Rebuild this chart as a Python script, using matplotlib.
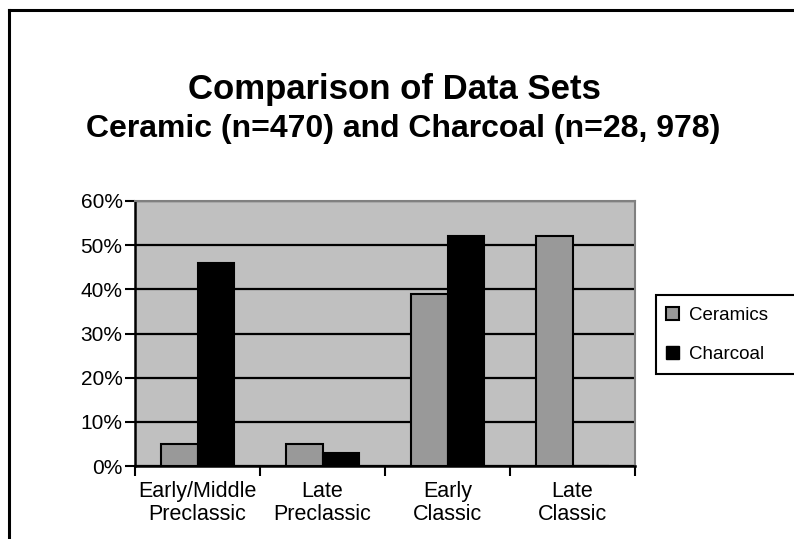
import matplotlib
matplotlib.use("Agg")
import matplotlib.pyplot as plt
import numpy as np
from matplotlib.lines import Line2D
from matplotlib.patches import Rectangle, Patch

plt.rcParams['font.family'] = ['Liberation Sans', 'DejaVu Sans']

# Share of each data set per period (%)
periods = ["Early/Middle\nPreclassic", "Late\nPreclassic", "Early\nClassic", "Late\nClassic"]
ceramics = [5, 5, 39, 52]
charcoal = [46, 3, 52, 0]
yticks = [0, 10, 20, 30, 40, 50, 60]

fig = plt.figure(figsize=(7.94, 5.39), dpi=100)
ax = fig.add_axes([135 / 794, 73 / 539, 500 / 794, 265 / 539])

x = np.arange(len(periods))
w = 0.29
ax.set_facecolor('#c0c0c0')
ax.set_axisbelow(True)
ax.yaxis.grid(True, color='black', linewidth=1.6)
ax.bar(x - w / 2, ceramics, w, color='#999999', edgecolor='black', linewidth=1.5, label='Ceramics')
ax.bar(x + w / 2, charcoal, w, color='black', edgecolor='black', linewidth=1.5, label='Charcoal')

ax.set_ylim(0, 60)
ax.set_yticks(yticks)
ax.set_yticklabels([f"{v}%" for v in yticks], fontsize=15)
ax.set_xlim(-0.5, len(periods) - 0.5)
ax.set_xticks(np.arange(len(periods) + 1) - 0.5)
ax.set_xticklabels([])
ax.set_xticks(x, minor=True)
ax.set_xticklabels(periods, minor=True, fontsize=15.5, linespacing=1.12)
ax.tick_params(axis='x', which='minor', length=0, pad=11)
ax.tick_params(axis='both', which='major', length=7, width=1.5, direction='out')
ax.tick_params(axis='y', pad=2)

for side in ('left', 'bottom'):
    ax.spines[side].set_linewidth(1.8)
    ax.spines[side].set_color('black')
for side in ('top', 'right'):
    ax.spines[side].set_linewidth(1.5)
    ax.spines[side].set_color('#808080')

# two-line title
fig.text(0.497, 1 - 99 / 539, "Comparison of Data Sets",
         ha='center', va='baseline', fontsize=25, fontweight='bold')
fig.text(0.508, 1 - 137 / 539, "Ceramic (n=470) and Charcoal (n=28, 978)",
         ha='center', va='baseline', fontsize=23, fontweight='bold')

# outer frame (top and left edges)
fig.add_artist(Line2D([9 / 794, 9 / 794], [0, 1 - 10 / 539], color='black', linewidth=2.2))
fig.add_artist(Line2D([9 / 794, 1], [1 - 10 / 539, 1 - 10 / 539], color='black', linewidth=2.2))

# legend box running off the right edge
fig.add_artist(Rectangle((656 / 794, 1 - 374 / 539), 0.2, 79 / 539, transform=fig.transFigure,
                         facecolor='white', edgecolor='black', linewidth=1.5, clip_on=False))
handles = [Patch(facecolor='#999999', edgecolor='black', linewidth=1.5),
           Patch(facecolor='black', edgecolor='black')]
fig.legend(handles, ['Ceramics', 'Charcoal'], loc='center left',
           bbox_to_anchor=(666 / 794, 1 - 335 / 539), frameon=False, fontsize=13.5,
           borderpad=0, borderaxespad=0,
           handlelength=0.69, handleheight=0.69, handletextpad=0.53, labelspacing=1.15)

fig.savefig("out.png", dpi=100)
